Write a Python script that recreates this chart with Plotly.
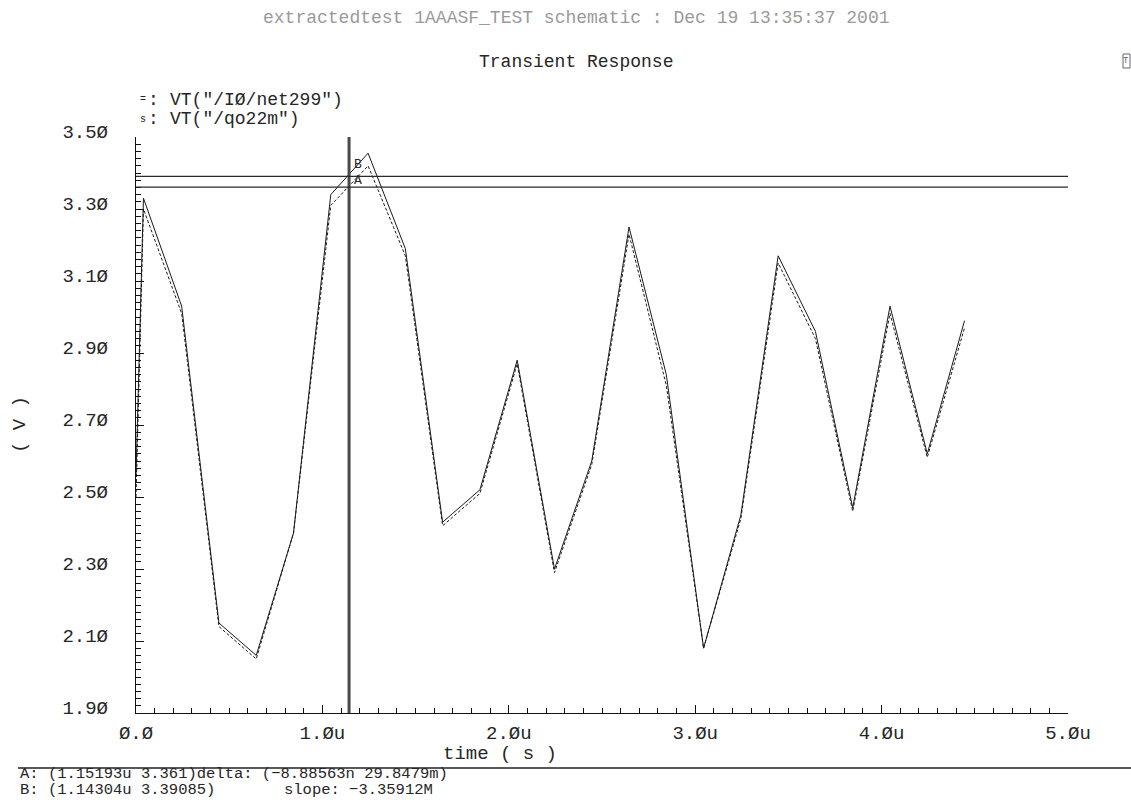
import numpy as np
import plotly.graph_objects as go

# ---- data (time in microseconds, voltage in volts) ----
time_us = [0.0, 0.04, 0.245, 0.445, 0.645, 0.845, 1.045, 1.245, 1.445, 1.645, 1.845,
           2.045, 2.245, 2.445, 2.645, 2.845, 3.045, 3.245, 3.445, 3.645, 3.845,
           4.045, 4.245, 4.445]
vt_net299 = [2.56, 3.33, 3.03, 2.15, 2.06, 2.40, 3.34, 3.455, 3.19, 2.43, 2.52,
             2.88, 2.30, 2.60, 3.25, 2.84, 2.08, 2.45, 3.17, 2.96, 2.47,
             3.03, 2.62, 2.99]
vt_qo22m = [2.50, 3.30, 3.01, 2.14, 2.05, 2.40, 3.31, 3.42, 3.17, 2.42, 2.51,
            2.87, 2.29, 2.59, 3.23, 2.81, 2.08, 2.44, 3.15, 2.94, 2.46,
            3.01, 2.61, 2.97]

# cursor readouts
cursor_a = (1.15193, 3.361)
cursor_b = (1.14304, 3.39085)

y_tickvals = [1.9, 2.1, 2.3, 2.5, 2.7, 2.9, 3.1, 3.3, 3.5]
y_ticktext = ["1.9Ø", "2.1Ø", "2.3Ø", "2.5Ø", "2.7Ø", "2.9Ø", "3.1Ø", "3.3Ø", "3.5Ø"]
x_tickvals = [0, 1, 2, 3, 4, 5]
x_ticktext = ["Ø.Ø", "1.Øu", "2.Øu", "3.Øu", "4.Øu", "5.Øu"]

# ---- page geometry (pixels) ----
WIDTH, HEIGHT = 1131, 806
L, R, T, B = 136, 1068, 137, 713      # plot frame
LABEL_EDGE = 108                       # right edge of the voltage labels
PW, PH = R - L, B - T
FRAME_W = R - LABEL_EDGE               # width inside the margins


def px(x):
    return (x - LABEL_EDGE) / FRAME_W


def py(y):
    return (B - y) / PH


FONT = "Liberation Mono"
INK = "#262626"

fig = go.Figure()
fig.add_trace(go.Scatter(x=time_us, y=vt_net299, mode="lines", yaxis="y",
                         line=dict(color="#1a1a1a", width=1), name='VT("/IØ/net299")'))
fig.add_trace(go.Scatter(x=time_us, y=vt_qo22m, mode="lines", yaxis="y2",
                         line=dict(color="#1a1a1a", width=1, dash="3px,2px"),
                         name='VT("/qo22m")'))

# cursor lines
fig.add_shape(type="line", xref="x", yref="y", x0=cursor_b[0], x1=cursor_b[0],
              y0=1.9, y1=3.5, line=dict(color="#4a4a4a", width=3))
for v in (cursor_b[1], cursor_a[1]):
    fig.add_shape(type="line", xref="x", yref="y", x0=0, x1=5, y0=v, y1=v,
                  line=dict(color="#2a2a2a", width=1.3))

# separator line above the readout
fig.add_shape(type="line", xref="paper", yref="paper", x0=px(18), x1=px(1131),
              y0=py(768), y1=py(768), line=dict(color="#222222", width=1.5))
# small window glyph, top right
fig.add_shape(type="rect", xref="paper", yref="paper", x0=px(1123), x1=px(1130),
              y0=py(68), y1=py(54), line=dict(color="#666666", width=1))

annots = []


def text(x, y, s, size, color=INK, xanchor="left", angle=0):
    annots.append(dict(x=px(x), y=py(y), xref="paper", yref="paper", text=s,
                       showarrow=False, xanchor=xanchor, yanchor="middle",
                       textangle=angle,
                       font=dict(family=FONT, size=size, color=color)))


text(576, 18, "extractedtest 1AAASF_TEST schematic : Dec 19 13:35:37 2001", 18,
     color="#9a9a9a", xanchor="center")
text(576, 62, "Transient Response", 18, xanchor="center")
text(1126, 61, "T", 9, color="#666666", xanchor="center")

# legend
text(138, 100, "=", 10)
text(146, 100, ':', 18)
text(168, 100, 'VT("/IØ/net299")', 18)
text(138, 119, "s", 10)
text(146, 119, ':', 18)
text(168, 119, 'VT("/qo22m")', 18)

# axis titles
text(500, 754, "time ( s )", 19, xanchor="center")
text(20, 425, "( V )", 19, xanchor="center", angle=-90)

# cursor labels
text(352, 164, "B", 13)
text(352, 181, "A", 13)

# readout
text(18, 774, "A: (1.15193u 3.361)delta: (−8.88563n 29.8479m)", 15.5)
text(18, 790, "B: (1.14304u 3.39085)", 15.5)
text(282, 790, "slope: −3.35912M", 15.5)

fig.update_layout(
    width=WIDTH, height=HEIGHT, autosize=False,
    margin=dict(l=LABEL_EDGE, r=WIDTH - R, t=T, b=HEIGHT - B, pad=0),
    paper_bgcolor="white", plot_bgcolor="white",
    showlegend=False,
    annotations=annots,
    font=dict(family=FONT, color=INK),
    xaxis=dict(
        domain=[(L - LABEL_EDGE) / FRAME_W, 1],
        range=[0, 5], showgrid=False, zeroline=False,
        showline=True, linecolor="#111111", linewidth=1,
        tickmode="array", tickvals=x_tickvals, ticktext=x_ticktext,
        ticks="inside", ticklen=8, tickcolor="#111111",
        tickfont=dict(family=FONT, size=19, color=INK),
        ticklabelposition="outside", ticklabelstandoff=2,
        minor=dict(tickmode="array",
                   tickvals=list(np.round(np.arange(0, 5.0001, 0.1), 3)),
                   ticks="inside", ticklen=5, tickcolor="#111111", showgrid=False),
    ),
    # frame axis: line and ticks at the plot edge
    yaxis=dict(
        range=[1.9, 3.5], anchor="x", showgrid=False, zeroline=False,
        showline=True, linecolor="#111111", linewidth=1,
        tickmode="array", tickvals=y_tickvals, showticklabels=False,
        ticks="inside", ticklen=8, tickcolor="#111111",
        minor=dict(tickmode="array",
                   tickvals=list(np.round(np.arange(1.9, 3.5001, 0.02), 3)),
                   ticks="inside", ticklen=5, tickcolor="#111111", showgrid=False),
    ),
    # label axis: same scale, labels set back from the frame
    yaxis2=dict(
        matches="y", overlaying="y", anchor="free", position=0, side="left",
        showgrid=False, zeroline=False, showline=False, ticks="",
        tickmode="array", tickvals=y_tickvals, ticktext=y_ticktext,
        tickfont=dict(family=FONT, size=19, color=INK),
        ticklabelshift=-6,
    ),
)

fig.write_html("out.html")
